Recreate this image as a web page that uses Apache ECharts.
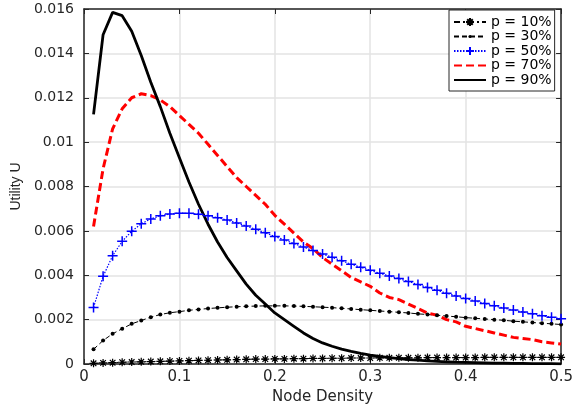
<!DOCTYPE html>
<html>
<head>
<meta charset="utf-8">
<script src="https://cdn.jsdelivr.net/npm/echarts@6/dist/echarts.min.js"></script>
<style>
html,body{margin:0;padding:0;background:#fff;}
#chart{width:576px;height:410px;}
</style>
</head>
<body>
<div id="chart"></div>
<script>
var density = [0.01,0.02,0.03,0.04,0.05,0.06,0.07,0.08,0.09,0.10,
  0.11,0.12,0.13,0.14,0.15,0.16,0.17,0.18,0.19,0.20,
  0.21,0.22,0.23,0.24,0.25,0.26,0.27,0.28,0.29,0.30,
  0.31,0.32,0.33,0.34,0.35,0.36,0.37,0.38,0.39,0.40,
  0.41,0.42,0.43,0.44,0.45,0.46,0.47,0.48,0.49,0.50];

var seriesNames = ['p = 10%','p = 30%','p = 50%','p = 70%','p = 90%'];

var p10 = [0.00003,0.00005,0.00006,0.00008,0.00009,0.00010,0.00011,0.00012,0.00013,0.00014,
  0.00015,0.00016,0.00017,0.00018,0.00019,0.00020,0.00021,0.00022,0.00022,0.00023,
  0.00023,0.00024,0.00024,0.00025,0.00025,0.00026,0.00026,0.00027,0.00027,0.00027,
  0.00028,0.00028,0.00028,0.00028,0.00028,0.00029,0.00029,0.00029,0.00029,0.00029,
  0.00029,0.00030,0.00030,0.00030,0.00030,0.00030,0.00030,0.00030,0.00030,0.00030];

var p30 = [0.00066,0.00106,0.00136,0.00159,0.00181,0.00196,0.00211,0.00223,0.00231,0.00236,
  0.00242,0.00246,0.00250,0.00253,0.00256,0.00258,0.00260,0.00261,0.00262,0.00262,
  0.00262,0.00261,0.00260,0.00258,0.00256,0.00254,0.00251,0.00248,0.00245,0.00242,
  0.00239,0.00236,0.00233,0.00230,0.00226,0.00223,0.00220,0.00216,0.00213,0.00209,
  0.00206,0.00203,0.00200,0.00197,0.00193,0.00190,0.00187,0.00184,0.00181,0.00178];

var p50 = [0.00255,0.00395,0.00488,0.00553,0.00598,0.00632,0.00654,0.00668,0.00676,0.00680,
  0.00679,0.00675,0.00668,0.00659,0.00649,0.00636,0.00622,0.00607,0.00591,0.00575,
  0.00559,0.00543,0.00527,0.00511,0.00496,0.00481,0.00465,0.00450,0.00436,0.00422,
  0.00409,0.00397,0.00385,0.00372,0.00358,0.00345,0.00332,0.00319,0.00307,0.00295,
  0.00284,0.00273,0.00262,0.00252,0.00243,0.00234,0.00226,0.00218,0.00211,0.00204];

var p70 = [0.0062,0.0088,0.0106,0.0115,0.0120,0.01218,0.0121,0.0119,0.0116,0.0112,
  0.0108,0.0104,0.0099,0.0094,0.0089,0.0084,0.0080,0.0076,0.0072,0.0067,
  0.0063,0.0059,0.0055,0.0052,0.0048,0.0045,0.0042,0.0039,0.0037,0.0035,
  0.0032,0.0030,0.0029,0.0027,0.0025,0.0023,0.0022,0.0020,0.0019,0.0017,
  0.0016,0.0015,0.0014,0.0013,0.0012,0.00115,0.0011,0.0010,0.00095,0.0009];

var p90 = [0.01125,0.01484,0.01585,0.0157,0.0150,0.0139,0.0127,0.0116,0.0104,0.0093,
  0.0082,0.0072,0.0063,0.0055,0.0048,0.0042,0.0036,0.0031,0.0027,0.0023,
  0.0020,0.0017,0.0014,0.00115,0.00095,0.0008,0.00067,0.00057,0.00048,0.0004,
  0.00034,0.00029,0.00024,0.0002,0.00017,0.00014,0.00012,0.0001,0.00008,0.00007,
  0.00006,0.00005,0.00004,0.00004,0.00003,0.00003,0.00002,0.00002,0.00002,0.00001];

var xTicks = [0,0.1,0.2,0.3,0.4,0.5];
var yTicks = [0,0.002,0.004,0.006,0.008,0.01,0.012,0.014,0.016];

function pairs(vals){ return density.map(function(x,i){ return [x, vals[i]]; }); }

var FONT = 'DejaVu Sans';
var AX = '#262626';
var asterisk = 'path://M5,0L5,10M0,5L10,5M1.5,1.5L8.5,8.5M8.5,1.5L1.5,8.5';
var plus = 'path://M5,0L5,10M0,5L10,5';
var dot = 'path://M0,0M10,10M5,3A2,2,0,1,1,5,7A2,2,0,1,1,5,3Z';

var chart = echarts.init(document.getElementById('chart'), null, {renderer:'canvas'});
chart.setOption({
  animation:false,
  backgroundColor:'#fff',
  grid:{left:84,right:14,top:9,bottom:45,containLabel:false},
  legend:{
    left:449, top:10, orient:'vertical',
    data:seriesNames,
    backgroundColor:'#fff', borderColor:AX, borderWidth:1,
    padding:[5,3,4,4],
    itemWidth:32, itemHeight:10, itemGap:0.5,
    textStyle:{fontFamily:FONT,fontSize:14,color:'#000',lineHeight:14}
  },
  xAxis:[{
    type:'value', min:xTicks[0], max:xTicks[xTicks.length-1], interval:0.1,
    name:'Node Density', nameLocation:'middle', nameGap:26,
    nameTextStyle:{fontFamily:FONT,fontSize:15,color:AX},
    axisLine:{show:true,onZero:false,lineStyle:{color:AX,width:1.5}},
    axisTick:{show:true,inside:true,length:5,lineStyle:{color:AX,width:1}},
    axisLabel:{fontFamily:FONT,fontSize:15,color:AX,margin:6},
    splitLine:{show:true,lineStyle:{color:'#e3e3e3',width:1.5}}
  },{
    type:'value', position:'top', min:0, max:0.5, interval:0.1,
    axisLine:{show:true,onZero:false,lineStyle:{color:AX,width:1.5}},
    axisTick:{show:true,inside:true,length:5,lineStyle:{color:AX,width:1}},
    axisLabel:{show:false}, splitLine:{show:false}
  }],
  yAxis:[{
    type:'value', min:yTicks[0], max:yTicks[yTicks.length-1], interval:0.002,
    name:'Utility U', nameLocation:'middle', nameGap:60, nameRotate:90,
    nameTextStyle:{fontFamily:'Liberation Sans Narrow, Liberation Sans',fontSize:14,color:AX},
    axisLine:{show:true,onZero:false,lineStyle:{color:AX,width:1.5}},
    axisTick:{show:true,inside:true,length:5,lineStyle:{color:AX,width:1}},
    axisLabel:{fontFamily:FONT,fontSize:14,color:AX,margin:10},
    splitLine:{show:true,lineStyle:{color:'#e3e3e3',width:1.5}}
  },{
    type:'value', position:'right', min:0, max:0.016, interval:0.002,
    axisLine:{show:true,onZero:false,lineStyle:{color:AX,width:1.5}},
    axisTick:{show:true,inside:true,length:5,lineStyle:{color:AX,width:1}},
    axisLabel:{show:false}, splitLine:{show:false}
  }],
  series:[
    {name:seriesNames[0], type:'line', data:pairs(p10), showAllSymbol:true,
     symbol:asterisk, symbolSize:8,
     itemStyle:{color:'#000',borderColor:'#000',borderWidth:1.2},
     lineStyle:{color:'#000',width:1,type:[6,3,2,3]}},
    {name:seriesNames[1], type:'line', data:pairs(p30), showAllSymbol:true,
     symbol:dot, symbolSize:10,
     itemStyle:{color:'#000'},
     lineStyle:{color:'#000',width:1,type:[5,3]}},
    {name:seriesNames[2], type:'line', data:pairs(p50), showAllSymbol:true,
     symbol:plus, symbolSize:10,
     itemStyle:{color:'#0000ff',borderColor:'#0000ff',borderWidth:1.5},
     lineStyle:{color:'#0000ff',width:1.2,type:[1.5,1.5]}},
    {name:seriesNames[3], type:'line', data:pairs(p70), symbol:'none',
     itemStyle:{color:'rgba(0,0,0,0)'},
     lineStyle:{color:'#ff0000',width:3,type:[8,4]}},
    {name:seriesNames[4], type:'line', data:pairs(p90), symbol:'none',
     itemStyle:{color:'rgba(0,0,0,0)'},
     lineStyle:{color:'#000',width:2.8}}
  ]
});
</script>
</body>
</html>
